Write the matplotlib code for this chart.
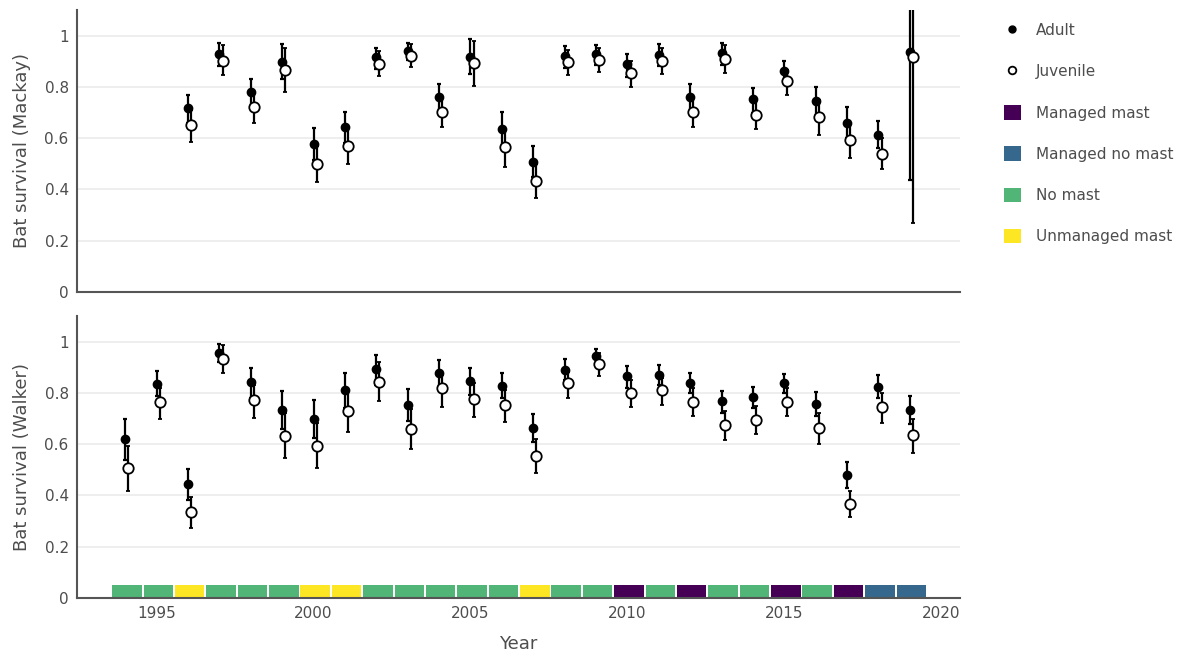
import numpy as np
import matplotlib
matplotlib.use("Agg")
import matplotlib.pyplot as plt
from matplotlib.lines import Line2D
from matplotlib.patches import Patch

# Mackay colony (1996-2019)
mackay_years = np.arange(1996, 2020)
mackay_adult = [0.717, 0.929, 0.779, 0.896, 0.577, 0.642, 0.916, 0.942, 0.761, 0.918, 0.636, 0.508,
                0.921, 0.929, 0.888, 0.926, 0.761, 0.931, 0.752, 0.862, 0.745, 0.661, 0.614, 0.936]
mackay_adult_lo = [0.660, 0.883, 0.720, 0.829, 0.515, 0.580, 0.870, 0.905, 0.700, 0.849, 0.570, 0.450,
                   0.875, 0.885, 0.840, 0.880, 0.700, 0.885, 0.700, 0.820, 0.685, 0.600, 0.560, 0.435]
mackay_adult_hi = [0.770, 0.971, 0.829, 0.966, 0.639, 0.701, 0.953, 0.973, 0.810, 0.986, 0.704, 0.569,
                   0.961, 0.964, 0.927, 0.966, 0.810, 0.973, 0.796, 0.901, 0.801, 0.721, 0.668, 1.200]
mackay_juv = [0.652, 0.903, 0.722, 0.865, 0.501, 0.570, 0.891, 0.922, 0.703, 0.892, 0.565, 0.432,
              0.897, 0.905, 0.855, 0.901, 0.704, 0.908, 0.692, 0.822, 0.684, 0.591, 0.540, 0.916]
mackay_juv_lo = [0.587, 0.845, 0.661, 0.781, 0.430, 0.501, 0.842, 0.879, 0.642, 0.805, 0.488, 0.365,
                 0.845, 0.860, 0.801, 0.849, 0.643, 0.853, 0.635, 0.769, 0.613, 0.521, 0.478, 0.269]
mackay_juv_hi = [0.710, 0.964, 0.775, 0.951, 0.570, 0.640, 0.939, 0.966, 0.760, 0.979, 0.630, 0.500,
                 0.945, 0.951, 0.903, 0.953, 0.760, 0.964, 0.750, 0.865, 0.750, 0.660, 0.600, 1.200]

# Walker colony (1994-2019)
walker_years = np.arange(1994, 2020)
walker_adult = [0.620, 0.836, 0.443, 0.956, 0.844, 0.732, 0.698, 0.811, 0.895, 0.753, 0.876, 0.845, 0.827,
                0.663, 0.891, 0.943, 0.865, 0.871, 0.837, 0.767, 0.783, 0.837, 0.756, 0.480, 0.823, 0.733]
walker_adult_lo = [0.540, 0.788, 0.382, 0.920, 0.780, 0.661, 0.624, 0.740, 0.830, 0.692, 0.820, 0.790, 0.780,
                   0.607, 0.850, 0.910, 0.820, 0.830, 0.800, 0.720, 0.740, 0.800, 0.710, 0.430, 0.780, 0.680]
walker_adult_hi = [0.698, 0.884, 0.505, 0.991, 0.897, 0.806, 0.772, 0.878, 0.949, 0.814, 0.927, 0.896, 0.878,
                   0.719, 0.931, 0.973, 0.904, 0.910, 0.876, 0.809, 0.822, 0.875, 0.804, 0.529, 0.869, 0.789]
walker_juv = [0.507, 0.763, 0.334, 0.931, 0.774, 0.633, 0.594, 0.731, 0.844, 0.658, 0.818, 0.775, 0.752,
              0.554, 0.839, 0.912, 0.801, 0.810, 0.765, 0.675, 0.694, 0.765, 0.662, 0.367, 0.745, 0.635]
walker_juv_lo = [0.419, 0.698, 0.274, 0.879, 0.703, 0.545, 0.506, 0.646, 0.769, 0.580, 0.746, 0.706, 0.687,
                 0.486, 0.779, 0.866, 0.744, 0.754, 0.710, 0.618, 0.640, 0.711, 0.601, 0.315, 0.684, 0.567]
walker_juv_hi = [0.594, 0.820, 0.393, 0.986, 0.830, 0.720, 0.681, 0.810, 0.919, 0.736, 0.870, 0.840, 0.810,
                 0.619, 0.880, 0.957, 0.850, 0.860, 0.820, 0.730, 0.750, 0.820, 0.720, 0.419, 0.800, 0.700]

# Beech mast category per year (Walker panel strip)
mast_years = np.arange(1994, 2020)
mast_type = ["No mast", "No mast", "Unmanaged mast", "No mast", "No mast", "No mast",
             "Unmanaged mast", "Unmanaged mast", "No mast", "No mast", "No mast", "No mast",
             "No mast", "Unmanaged mast", "No mast", "No mast", "Managed mast", "No mast",
             "Managed mast", "No mast", "No mast", "Managed mast", "No mast", "Managed mast",
             "Managed no mast", "Managed no mast"]
mast_levels = ["Managed mast", "Managed no mast", "No mast", "Unmanaged mast"]
mast_colors = {"Managed mast": "#450055", "Managed no mast": "#36678c",
               "No mast": "#50b576", "Unmanaged mast": "#fde725"}

TEXT = "#4d4d4d"
GRID = "#ebebeb"
DODGE = 0.1

plt.rcParams["font.family"] = ["DejaVu Sans"]

fig = plt.figure(figsize=(11.98, 6.57), dpi=100)
W, H = 1198, 657
ax1 = fig.add_axes([77 / W, 1 - 292 / H, (960 - 77) / W, (292 - 10) / H])
ax2 = fig.add_axes([77 / W, 1 - 598 / H, (960 - 77) / W, (598 - 316) / H], sharex=ax1)


def draw_panel(ax, years, a, alo, ahi, j, jlo, jhi):
    a, alo, ahi = map(np.asarray, (a, alo, ahi))
    j, jlo, jhi = map(np.asarray, (j, jlo, jhi))
    ax.errorbar(years, a, yerr=[a - alo, ahi - a], fmt="o", color="black",
                ms=6, ecolor="black", elinewidth=1.6, capsize=1.5, capthick=1.6, zorder=3)
    ax.errorbar(years + DODGE, j, yerr=[j - jlo, jhi - j], fmt="o", color="black",
                mfc="white", mec="black", mew=1.3, ms=7.5, ecolor="black",
                elinewidth=1.6, capsize=1.5, capthick=1.6, zorder=3)
    ax.set_ylim(0, 1.1)
    ax.set_yticks([0, 0.2, 0.4, 0.6, 0.8, 1])
    ax.set_yticklabels(["0", "0.2", "0.4", "0.6", "0.8", "1"])
    ax.grid(axis="y", color=GRID, linewidth=1.2)
    ax.set_axisbelow(True)
    for side in ["top", "right"]:
        ax.spines[side].set_visible(False)
    for side in ["left", "bottom"]:
        ax.spines[side].set_color("#555555")
        ax.spines[side].set_linewidth(1.5)
    ax.tick_params(length=0, labelsize=11, colors=TEXT, pad=6)


draw_panel(ax1, mackay_years, mackay_adult, mackay_adult_lo, mackay_adult_hi,
           mackay_juv, mackay_juv_lo, mackay_juv_hi)
draw_panel(ax2, walker_years, walker_adult, walker_adult_lo, walker_adult_hi,
           walker_juv, walker_juv_lo, walker_juv_hi)

ax2.bar(mast_years + DODGE / 2, 0.05, width=0.94, bottom=0,
        color=[mast_colors[m] for m in mast_type], zorder=2)

ax1.set_xlim(1992.46, 2020.6)
ax2.set_xticks([1995, 2000, 2005, 2010, 2015, 2020])
plt.setp(ax1.get_xticklabels(), visible=False)

ax1.set_ylabel("Bat survival (Mackay)", fontsize=13, color=TEXT, labelpad=10)
ax2.set_ylabel("Bat survival (Walker)", fontsize=13, color=TEXT, labelpad=10)
ax2.set_xlabel("Year", fontsize=13, color=TEXT, labelpad=10)

handles = [Line2D([], [], marker="o", ls="none", color="black", ms=5),
           Line2D([], [], marker="o", ls="none", mfc="white", mec="black", mew=1.3, ms=5.5)]
labels = ["Adult", "Juvenile"]
for m in mast_levels:
    handles.append(Patch(facecolor=mast_colors[m], edgecolor="none"))
    labels.append(m)

leg = fig.legend(handles, labels, loc="upper left", bbox_to_anchor=(990 / W, 1 - 9 / H),
                 frameon=False, fontsize=11, labelspacing=1.68, handlelength=1.1,
                 handleheight=1.1, handletextpad=1.0)
for t in leg.get_texts():
    t.set_color(TEXT)

fig.savefig("out.png", dpi=100)
